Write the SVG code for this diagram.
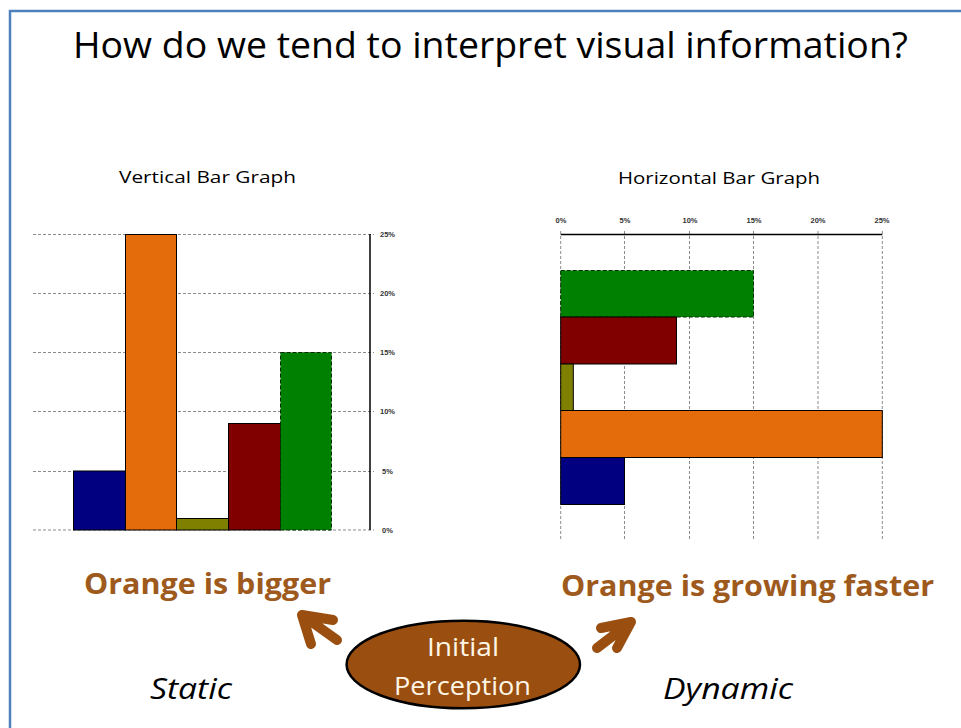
<svg xmlns="http://www.w3.org/2000/svg" width="961" height="728" viewBox="0 0 961 728">
<defs>
<style>
.grid{stroke:#8a8a8a;stroke-width:1;stroke-dasharray:3 2;fill:none}
.axis{stroke:#000;stroke-width:1.5;fill:none}
.tick{font-family:"Liberation Sans",Arial,sans-serif;font-size:7.5px;font-weight:bold;fill:#333}
.sub{font-family:"Open Sans","Noto Sans",sans-serif;font-size:17px;fill:#000}
.bar{stroke:#000;stroke-width:1}
.claim{font-family:"Open Sans","Noto Sans",sans-serif;font-weight:bold;font-size:28px;fill:#9e5a1c}
.mode{font-family:"Open Sans","Noto Sans",sans-serif;font-style:italic;font-size:29px;fill:#000}
.arrow{stroke:#9a4f10;stroke-width:10;stroke-linecap:round;stroke-linejoin:round;fill:none}
.perc{font-family:"Open Sans","Noto Sans",sans-serif;font-size:26px;fill:#fff6e6}
</style>
</defs>
<rect x="0" y="0" width="961" height="728" fill="#fff"/>
<path d="M10 740 V11 H975" fill="none" stroke="#4f81bd" stroke-width="2.5"/>
<text id="title" x="73" y="58" font-family="'Open Sans','Noto Sans',sans-serif" font-size="37" textLength="835" lengthAdjust="spacingAndGlyphs">How do we tend to interpret visual information?</text>

<g id="vertical-chart">
<text class="sub" x="119" y="183" textLength="177" lengthAdjust="spacingAndGlyphs">Vertical Bar Graph</text>
<g class="grid">
<line x1="33" y1="234.5" x2="374" y2="234.5"/>
<line x1="33" y1="293.5" x2="374" y2="293.5"/>
<line x1="33" y1="352.5" x2="374" y2="352.5"/>
<line x1="33" y1="411.5" x2="374" y2="411.5"/>
<line x1="33" y1="471.5" x2="374" y2="471.5"/>
<line x1="33" y1="530" x2="374" y2="530"/>
</g>
<line class="axis" x1="370" y1="234" x2="370" y2="530"/>
<g class="tick">
<text x="380" y="237">25%</text>
<text x="380" y="296">20%</text>
<text x="380" y="355">15%</text>
<text x="380" y="414">10%</text>
<text x="382" y="474">5%</text>
<text x="382" y="533">0%</text>
</g>
<rect class="bar" x="73.5" y="471" width="52" height="59" fill="#000080"/>
<rect class="bar" x="125.5" y="234.5" width="51" height="295.5" fill="#e46c0a"/>
<rect class="bar" x="176.5" y="518.5" width="52" height="11.5" fill="#808000"/>
<rect class="bar" x="228.5" y="423.5" width="52" height="106.5" fill="#800000"/>
<rect x="280.5" y="352.5" width="51" height="177.5" fill="#008000" stroke="#003000" stroke-width="1" stroke-dasharray="4 2"/>
</g>

<g id="horizontal-chart">
<text class="sub" x="618" y="184" textLength="202" lengthAdjust="spacingAndGlyphs">Horizontal Bar Graph</text>
<g class="grid">
<line x1="560.7" y1="231" x2="560.7" y2="540"/>
<line x1="624.5" y1="231" x2="624.5" y2="540"/>
<line x1="689.5" y1="231" x2="689.5" y2="540"/>
<line x1="753.5" y1="231" x2="753.5" y2="540"/>
<line x1="818" y1="231" x2="818" y2="540"/>
<line x1="882.3" y1="231" x2="882.3" y2="540"/>
</g>
<line class="axis" x1="560.7" y1="234.5" x2="882.3" y2="234.5"/>
<g class="tick" text-anchor="middle">
<text x="561" y="223">0%</text>
<text x="625" y="223">5%</text>
<text x="690" y="223">10%</text>
<text x="754" y="223">15%</text>
<text x="818" y="223">20%</text>
<text x="882" y="223">25%</text>
</g>
<rect x="560.7" y="270.5" width="192.8" height="46.5" fill="#008000" stroke="#003000" stroke-width="1" stroke-dasharray="4 2"/>
<rect class="bar" x="560.7" y="317" width="115.8" height="47" fill="#800000"/>
<rect class="bar" x="560.7" y="364" width="12.6" height="46.5" fill="#808000"/>
<rect class="bar" x="560.7" y="410.5" width="321.6" height="47" fill="#e46c0a"/>
<rect class="bar" x="560.7" y="457.5" width="63.8" height="47" fill="#000080"/>
</g>

<g id="label-static-claim"><text class="claim" x="84" y="594" textLength="247" lengthAdjust="spacingAndGlyphs">Orange is bigger</text></g>
<g id="label-dynamic-claim"><text class="claim" x="561" y="596" textLength="373" lengthAdjust="spacingAndGlyphs">Orange is growing faster</text></g>

<g id="initial-perception">
<ellipse cx="463.3" cy="664.5" rx="116.7" ry="43.8" fill="#9a4f10" stroke="#000" stroke-width="2.5"/>
<text class="perc" x="427" y="656" textLength="72" lengthAdjust="spacingAndGlyphs">Initial</text>
<text class="perc" x="394" y="695" textLength="137" lengthAdjust="spacingAndGlyphs">Perception</text>
</g>

<g id="connectors">
<path class="arrow" d="M337 640 L302 615 M302 615 L333 620 M302 615 L311 644"/>
<path class="arrow" d="M597 648 L631 622 M631 622 L601 628 M631 622 L617 648"/>
</g>

<g id="label-static"><text class="mode" x="150" y="699" textLength="82" lengthAdjust="spacingAndGlyphs">Static</text></g>
<g id="label-dynamic"><text class="mode" x="663" y="699" textLength="130" lengthAdjust="spacingAndGlyphs">Dynamic</text></g>
</svg>
